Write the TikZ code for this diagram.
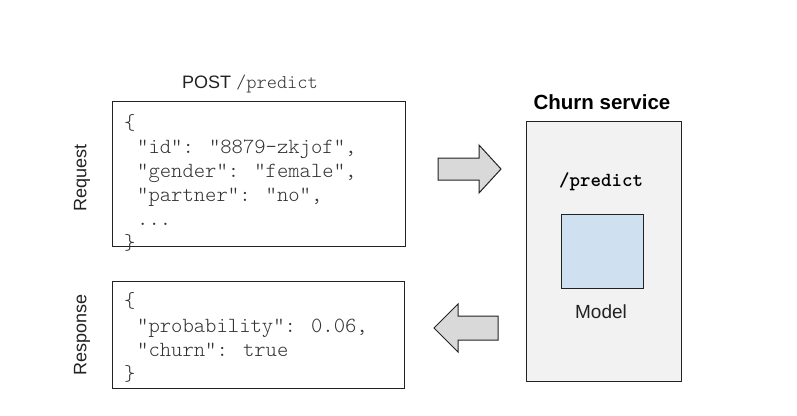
\documentclass[tikz,border=0pt]{standalone}
\usepackage{fontspec}
\setmainfont{Liberation Sans}
\newfontfamily\codefont{Latin Modern Mono Light}
\definecolor{svcfill}{HTML}{F2F2F2}
\definecolor{modelfill}{HTML}{CFE0F1}
\definecolor{arrowfill}{HTML}{D9D9D9}
\definecolor{codecol}{HTML}{333333}
\definecolor{linecol}{HTML}{222222}
\begin{document}
\begin{tikzpicture}[x=1pt,y=-1pt,
  box/.style={draw=linecol,line width=1.4pt},
  code/.style={anchor=base west,inner sep=0pt,font=\codefont\fontsize{21.6}{24}\selectfont,text=codecol},
  lbl/.style={inner sep=0pt,font=\fontsize{18}{20}\selectfont,text=linecol},
  fatarrow/.style={draw=linecol,line width=1pt,fill=arrowfill,line join=miter}]
\useasboundingbox (0,0) rectangle (797,415);
% request box
\node[box,minimum width=293pt,minimum height=145pt,anchor=north west,inner sep=0pt] (req) at (112,101) {};
\node[lbl,anchor=base] (post) at (250,88) {POST {\codefont\fontsize{19.5}{20}\selectfont\color{codecol}/predict}};
\node[lbl,rotate=90] (reqlbl) at (82,178) {Request};
\node[code] (r0) at (124,129) {\{};
\node[code] (r1) at (137,153) {"id": "8879-zkjof",};
\node[code] (r2) at (137,177) {"gender": "female",};
\node[code] (r3) at (137,201) {"partner": "no",};
\node[code] (r4) at (137,225) {...};
\node[code] (r5) at (124,249) {\}};
% response box
\node[box,minimum width=292pt,minimum height=107pt,anchor=north west,inner sep=0pt] (resp) at (112,281) {};
\node[lbl,rotate=90] (resplbl) at (82,335) {Response};
\node[code] (s0) at (124,307) {\{};
\node[code] (s1) at (137,332) {"probability": 0.06,};
\node[code] (s2) at (137,356) {"churn": true};
\node[code] (s3) at (124,380) {\}};
% service
\node[box,fill=svcfill,line width=1.2pt,minimum width=155pt,minimum height=260pt,anchor=north west,inner sep=0pt] (svc) at (526,121) {};
\node[inner sep=0pt,anchor=base,font=\bfseries\fontsize{20.5}{22}\selectfont,text=black] (svctitle) at (602,109) {Churn service};
\node[inner sep=0pt,anchor=base,font=\codefont\bfseries\fontsize{20}{20}\selectfont,text=black] (ep) at (601,186) {/predict};
\node[draw=linecol,line width=1.2pt,fill=modelfill,minimum width=82pt,minimum height=74pt,anchor=north west,inner sep=0pt] (model) at (561,214) {};
\node[lbl,anchor=base,font=\fontsize{19}{20}\selectfont] (modellbl) at (601,318) {Model};
% arrows
\draw[fatarrow] (438,158) -- (479,158) -- (479,145) -- (501,169) -- (479,193) -- (479,180) -- (438,180) -- cycle;
\draw[fatarrow] (498,316) -- (458,316) -- (458,304) -- (434,328) -- (458,352) -- (458,340) -- (498,340) -- cycle;
\end{tikzpicture}
\end{document}
